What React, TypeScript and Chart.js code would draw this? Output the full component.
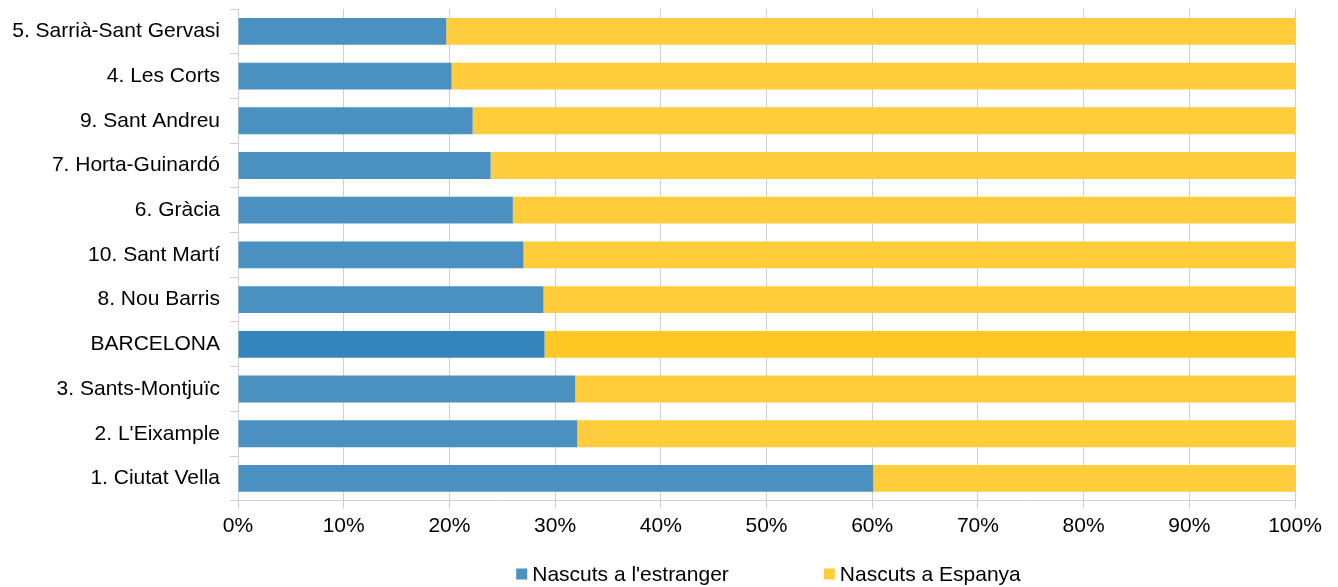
import React, { useEffect, useRef } from "react";
import { Chart, registerables } from "chart.js";

Chart.register(...registerables);

const categories = [
  "5. Sarrià-Sant Gervasi",
  "4. Les Corts",
  "9. Sant Andreu",
  "7. Horta-Guinardó",
  "6. Gràcia",
  "10. Sant Martí",
  "8. Nou Barris",
  "BARCELONA",
  "3. Sants-Montjuïc",
  "2. L'Eixample",
  "1. Ciutat Vella",
];

const bornAbroad = [19.7, 20.2, 22.2, 23.9, 26.0, 27.0, 28.9, 29.0, 31.9, 32.1, 60.1];
const bornSpain = [80.3, 79.8, 77.8, 76.1, 74.0, 73.0, 71.1, 71.0, 68.1, 67.9, 39.9];

const xTicks = [0, 10, 20, 30, 40, 50, 60, 70, 80, 90, 100];

const seriesNames = ["Nascuts a l'estranger", "Nascuts a Espanya"];

const BLUE = "#4A91C2";
const BLUE_DARK = "#3585BD";
const YELLOW = "#FFCD3B";
const YELLOW_DARK = "#FFC825";

const FONT_FAMILY = "'Liberation Sans', Arial, sans-serif";
const FONT_SIZE = 21;

const bottomLegend = {
  id: "bottomLegend",
  afterDraw(chart: any) {
    const ctx = chart.ctx;
    const area = chart.chartArea;
    const box = 11;
    const gapText = 5;
    const gapItems = 95;
    const colors = [BLUE, YELLOW];
    ctx.save();
    ctx.font = `${FONT_SIZE}px ${FONT_FAMILY}`;
    ctx.textBaseline = "middle";
    ctx.textAlign = "left";
    const widths = seriesNames.map((n) => box + gapText + ctx.measureText(n).width);
    const total = widths.reduce((a, b) => a + b, 0) + gapItems * (widths.length - 1);
    let x = (area.left + area.right) / 2 - total / 2 + 2;
    const yc = 574;
    seriesNames.forEach((n, i) => {
      ctx.fillStyle = colors[i];
      ctx.fillRect(x, yc - box / 2, box, box);
      ctx.fillStyle = "#000";
      ctx.fillText(n, x + box + gapText, yc + 1);
      x += widths[i] + gapItems;
    });
    ctx.restore();
  },
};

export default function App() {
  const ref = useRef<HTMLCanvasElement>(null);

  useEffect(() => {
    document.body.style.margin = "0";
    const ctx = ref.current!;
    const blueColors = categories.map((c) => (c === "BARCELONA" ? BLUE_DARK : BLUE));
    const yellowColors = categories.map((c) => (c === "BARCELONA" ? YELLOW_DARK : YELLOW));
    const chart = new Chart(ctx, {
      type: "bar",
      data: {
        labels: categories,
        datasets: [
          {
            label: seriesNames[0],
            data: bornAbroad,
            backgroundColor: blueColors,
            borderWidth: 0,
            barPercentage: 0.6,
            categoryPercentage: 1,
          },
          {
            label: seriesNames[1],
            data: bornSpain,
            backgroundColor: yellowColors,
            borderWidth: 0,
            barPercentage: 0.6,
            categoryPercentage: 1,
          },
        ],
      },
      plugins: [bottomLegend],
      options: {
        indexAxis: "y",
        animation: false,
        responsive: false,
        maintainAspectRatio: false,
        layout: { padding: { left: 0, right: 43, top: 9, bottom: 43 } },
        font: { family: FONT_FAMILY, size: FONT_SIZE },
        plugins: {
          tooltip: { enabled: false },
          legend: { display: false },
        },
        scales: {
          x: {
            stacked: true,
            min: 0,
            max: 100,
            afterBuildTicks: (scale: any) => {
              scale.ticks = xTicks.map((v) => ({ value: v }));
            },
            ticks: {
              color: "#000",
              padding: 5,
              maxRotation: 0,
              font: { family: FONT_FAMILY, size: FONT_SIZE },
              callback: (v: any) => v + "%",
            },
            grid: {
              color: "#D0D0D0",
              lineWidth: 1,
              tickLength: 8,
              drawTicks: true,
            },
            border: { color: "#D0D0D0" },
          },
          y: {
            stacked: true,
            afterFit: (scale: any) => {
              scale.width = 238;
              scale.paddingTop = 0;
              scale.paddingBottom = 0;
            },
            ticks: {
              color: "#000",
              padding: 10,
              font: { family: FONT_FAMILY, size: FONT_SIZE },
            },
            grid: {
              offset: true,
              drawOnChartArea: false,
              drawTicks: true,
              tickLength: 8,
              color: "#D0D0D0",
            },
            border: { color: "#D0D0D0" },
          },
        },
      },
    });
    return () => chart.destroy();
  }, []);

  return (
    <div style={{ width: 1338, height: 587 }}>
      <canvas ref={ref} width={1338} height={587} style={{ display: "block" }} />
    </div>
  );
}
